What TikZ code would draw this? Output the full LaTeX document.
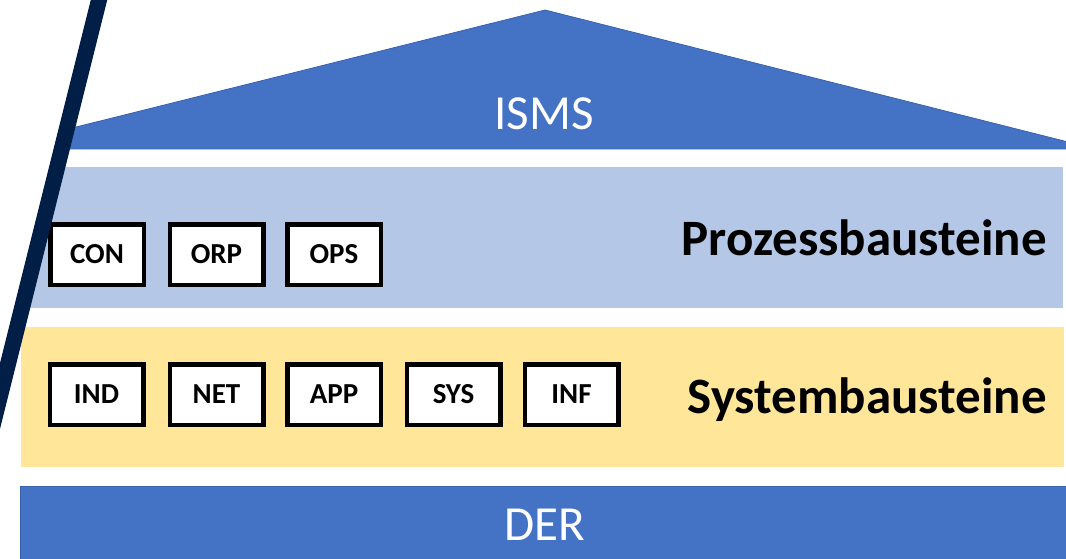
\documentclass[tikz,border=0pt]{standalone}
\usepackage{fontspec}
\setmainfont{Carlito}
\definecolor{mainblue}{HTML}{4472C4}
\definecolor{edgeblue}{HTML}{3A63AE}
\definecolor{procblue}{HTML}{B4C7E7}
\definecolor{sysyellow}{HTML}{FFE699}
\definecolor{navy}{HTML}{001E46}
\tikzset{
  layer/.style={rectangle, inner sep=0pt, anchor=north west},
  module/.style={rectangle, draw=black, line width=4.5pt, fill=white,
    minimum width=93.5pt, minimum height=60.5pt, inner sep=0pt,
    font=\bfseries\fontsize{29}{29}\selectfont},
  layertitle/.style={anchor=base east, inner sep=0pt,
    font=\bfseries\fontsize{51}{51}\selectfont},
  whitetitle/.style={anchor=base, inner sep=0pt, text=white,
    font=\fontsize{49}{49}\selectfont}
}
\begin{document}
\begin{tikzpicture}[x=1pt,y=-1pt]
\useasboundingbox (0,0) rectangle (1066,559);
\begin{scope}
\clip (0,0) rectangle (1066,559);
% roof
\path[fill=mainblue, draw=edgeblue, line width=0.8pt]
  (20,149) -- (20,141) -- (545,10) -- (1072,143) -- (1072,149) -- cycle;
\node[whitetitle] (isms) at (544,130) {ISMS};
% layers
\node[layer, fill=procblue, minimum width=1043pt, minimum height=141pt] (proc) at (20,167) {};
\node[layer, fill=sysyellow, minimum width=1043pt, minimum height=140pt] (sys) at (21,327) {};
\node[layer, fill=mainblue, draw=edgeblue, line width=0.8pt, minimum width=1060pt, minimum height=90pt] (der) at (20,486) {};
\node[whitetitle] (dertxt) at (545,540) {DER};
% layer titles
\node[layertitle] (proctxt) at (1047,255) {Prozessbausteine};
\node[layertitle] (systxt) at (1047,413) {Systembausteine};
% process modules
\node[module] (con) at (97,254.5) {CON};
\node[module] (orp) at (216.5,254.5) {ORP};
\node[module] (ops) at (334,254.5) {OPS};
% system modules
\node[module] (ind) at (96.5,394.5) {IND};
\node[module] (net) at (216.5,394.5) {NET};
\node[module] (app) at (334,394.5) {APP};
\node[module] (sysm) at (453.5,394.5) {SYS};
\node[module] (inf) at (571.5,394.5) {INF};
% white area left of the diagonal stroke
\fill[white] (-5,-5) -- (92.25,-5) -- (-1.25,369) -- (-5,369) -- cycle;
% diagonal stroke
\draw[navy, line width=16pt] (101.5,-10) -- (-18.5,470);
\end{scope}
\end{tikzpicture}
\end{document}
